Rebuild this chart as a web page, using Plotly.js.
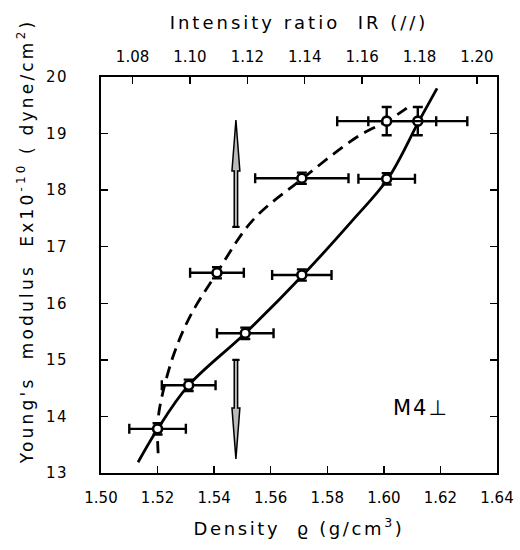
<!DOCTYPE html>
<html>
<head>
<meta charset="utf-8">
<script src="https://cdn.plot.ly/plotly-3.0.1.min.js"></script>
<style>
  html, body { margin: 0; padding: 0; background: #fff; }
  #chart { width: 520px; height: 550px; }
  .xtitle { letter-spacing: 2.6px; }
  .x2title { letter-spacing: 3px; }
  g.annotation[data-index="0"] text { letter-spacing: 3.2px; }
  g.annotation[data-index="1"] text { letter-spacing: 2px; }
  .ytick text { letter-spacing: 1.5px; }
</style>
</head>
<body>
<div id="chart"></div>
<script>
// ---- data ----
// density axis (bottom) and intensity-ratio axis (top)
const densityTicks = [1.50, 1.52, 1.54, 1.56, 1.58, 1.60, 1.62, 1.64];
const irTicks = [1.08, 1.10, 1.12, 1.14, 1.16, 1.18, 1.20];
const eTicks = [13, 14, 15, 16, 17, 18, 19, 20];

// measured points, solid-curve series
const solidRho = [1.520, 1.531, 1.551, 1.571, 1.601, 1.612];
const solidE = [13.78, 14.55, 15.47, 16.50, 18.20, 19.22];
const solidRhoErr = [0.010, 0.0095, 0.010, 0.0105, 0.010, 0.0175];
const solidEErr = [0.1, 0.1, 0.1, 0.1, 0.1, 0.25];

// measured points, dashed-curve series
const dashedRho = [1.541, 1.571, 1.601];
const dashedE = [16.54, 18.21, 19.22];
const dashedRhoErr = [0.0095, 0.0165, 0.0175];
const dashedEErr = [0.1, 0.1, 0.25];

// hand-drawn trend curves
const solidCurveRho = [1.5131, 1.5198, 1.5308, 1.551, 1.5714, 1.589, 1.6014, 1.6124, 1.6188];
const solidCurveE = [13.19, 13.76, 14.54, 15.47, 16.50, 17.47, 18.20, 19.22, 19.80];
const dashedCurveRho = [1.5202, 1.5200, 1.5208, 1.5254, 1.5314, 1.541, 1.5537, 1.5714, 1.5905, 1.6011, 1.6081];
const dashedCurveE = [13.35, 13.78, 14.17, 15.05, 15.76, 16.54, 17.47, 18.21, 18.94, 19.22, 19.45];

// arrows (up and down)
const arrowRho = [1.5477, 1.5477];
const arrowTailE = [17.35, 15.00];
const arrowHeadE = [19.24, 13.25];

// label
const sampleLabel = "M4⊥";
const sampleLabelRho = 1.613;
const sampleLabelE = 14.15;

const FONT = "DejaVu Sans, Liberation Sans, sans-serif";

// ---- traces ----
const traces = [
  {
    x: solidCurveRho, y: solidCurveE, mode: 'lines', type: 'scatter',
    line: { color: '#000', width: 2.8, shape: 'spline', smoothing: 1.0 },
    hoverinfo: 'skip', showlegend: false
  },
  {
    x: dashedCurveRho, y: dashedCurveE, mode: 'lines', type: 'scatter',
    line: { color: '#000', width: 2.8, shape: 'spline', smoothing: 1.0, dash: '12px,7px' },
    hoverinfo: 'skip', showlegend: false
  },
  {
    x: solidRho, y: solidE, mode: 'markers', type: 'scatter',
    error_x: { type: 'data', array: solidRhoErr, visible: true, color: '#000', thickness: 2.4, width: 5 },
    error_y: { type: 'data', array: solidEErr, visible: true, color: '#000', thickness: 2.4, width: 5 },
    marker: { symbol: 'circle', size: 9, color: '#fff', line: { color: '#000', width: 2.6 } },
    showlegend: false
  },
  {
    x: dashedRho, y: dashedE, mode: 'markers', type: 'scatter',
    error_x: { type: 'data', array: dashedRhoErr, visible: true, color: '#000', thickness: 2.4, width: 5 },
    error_y: { type: 'data', array: dashedEErr, visible: true, color: '#000', thickness: 2.4, width: 5 },
    marker: { symbol: 'circle', size: 9, color: '#fff', line: { color: '#000', width: 2.6 } },
    showlegend: false
  },
  {
    // carries the top (intensity ratio) axis
    x: irTicks, y: irTicks.map(() => null), xaxis: 'x2', yaxis: 'y',
    mode: 'markers', type: 'scatter', hoverinfo: 'skip', showlegend: false
  }
];

// ---- arrow shapes built from arrow data ----
function arrowPath(x, tail, head) {
  const dir = head > tail ? 1 : -1;
  const hs = 0.0006, hh = 0.0014, hl = 0.9;
  const base = head - dir * hl;
  return `M ${x - hs},${tail} L ${x - hs},${base} L ${x - hh},${base} L ${x},${head} ` +
         `L ${x + hh},${base} L ${x + hs},${base} L ${x + hs},${tail} Z`;
}
const shapes = arrowRho.map((x, i) => ({
  type: 'path', xref: 'x', yref: 'y',
  path: arrowPath(x, arrowTailE[i], arrowHeadE[i]),
  fillcolor: '#bbb', line: { color: '#000', width: 1.5 }
}));
// small tail bar on each arrow
arrowRho.forEach((x, i) => {
  shapes.push({
    type: 'line', xref: 'x', yref: 'y',
    x0: x - 0.0013, x1: x + 0.0013, y0: arrowTailE[i], y1: arrowTailE[i],
    line: { color: '#000', width: 2.2 }
  });
});

const axisCommon = {
  showline: true, linecolor: '#000', linewidth: 2,
  ticks: 'inside', ticklen: 7, tickwidth: 1.5, tickcolor: '#000',
  showgrid: false, zeroline: false,
  tickfont: { family: FONT, size: 15, color: '#000' }
};

const layout = {
  width: 520, height: 550,
  margin: { l: 101, r: 23, t: 77, b: 77 },
  paper_bgcolor: '#fff', plot_bgcolor: '#fff',
  showlegend: false,
  xaxis: Object.assign({}, axisCommon, {
    range: [1.50, 1.64], tickvals: densityTicks, ticktext: densityTicks.map(v => v.toFixed(2)),
    mirror: false, ticklabelstandoff: 10,
    title: { text: 'Density  ϱ (g/cm<sup>3</sup>)', font: { family: FONT, size: 18, color: '#000' }, standoff: 16 }
  }),
  xaxis2: Object.assign({}, axisCommon, {
    overlaying: 'x', side: 'top', anchor: 'y',
    range: [1.069, 1.207], tickvals: irTicks, ticktext: irTicks.map(v => v.toFixed(2)),
    ticklabelstandoff: 7,
    title: { text: 'Intensity ratio  IR (//)', font: { family: FONT, size: 18, color: '#000' }, standoff: 14 }
  }),
  yaxis: Object.assign({}, axisCommon, {
    range: [13, 20], tickvals: eTicks, ticktext: eTicks.map(String),
    mirror: 'ticks', ticklabelstandoff: 28
  }),
  shapes: shapes,
  annotations: [
    {
      xref: 'paper', yref: 'paper', x: -0.19, y: 0.585,
      xanchor: 'center', yanchor: 'middle', textangle: -90, showarrow: false,
      text: "Young's  modulus  Ex10<sup>-10</sup> ( dyne/cm<sup>2</sup>)",
      font: { family: FONT, size: 17, color: '#000' }
    },
    {
      xref: 'x', yref: 'y', x: sampleLabelRho, y: sampleLabelE,
      xanchor: 'center', yanchor: 'middle', showarrow: false,
      text: sampleLabel,
      font: { family: FONT, size: 21, color: '#000' }
    }
  ]
};

Plotly.newPlot('chart', traces, layout, { staticPlot: true, displayModeBar: false });
</script>
</body>
</html>
